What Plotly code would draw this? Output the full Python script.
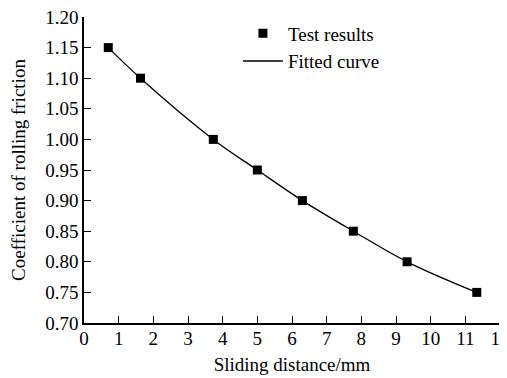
import plotly.graph_objects as go

# Data
sliding_distance = [0.7, 1.63, 3.73, 5.0, 6.3, 7.77, 9.32, 11.33]
friction_coeff = [1.15, 1.10, 1.00, 0.95, 0.90, 0.85, 0.80, 0.75]
x_ticks = list(range(0, 13))
y_ticks = [0.70, 0.75, 0.80, 0.85, 0.90, 0.95, 1.00, 1.05, 1.10, 1.15, 1.20]

FONT = "Liberation Serif, Times New Roman, serif"

fig = go.Figure()
fig.add_trace(go.Scatter(
    x=sliding_distance, y=friction_coeff, mode="markers", name="Test results",
    marker=dict(symbol="square", size=9, color="black"),
))
fig.add_trace(go.Scatter(
    x=sliding_distance, y=friction_coeff, mode="lines", name="Fitted curve",
    line=dict(color="black", width=1.3, shape="spline", smoothing=1.0),
))

axis_common = dict(
    showline=True, linecolor="black", linewidth=1.5, mirror=False,
    ticks="inside", ticklen=7, tickwidth=1.3, tickcolor="black",
    showgrid=False, zeroline=False, automargin=False,
    ticklabeloverflow="allow",
    tickfont=dict(family=FONT, size=19, color="black"),
)

# page body has an 8px margin, so the figure is 499x370
fig.update_layout(
    width=499, height=370,
    margin=dict(l=76, r=7, t=8, b=55),
    paper_bgcolor="white", plot_bgcolor="white",
    font=dict(family=FONT, size=19, color="black"),
    xaxis=dict(
        range=[0, 12], tickvals=x_ticks, ticktext=[str(v) for v in x_ticks],
        ticklabelstandoff=-3,
        title=dict(text="Sliding distance/mm", font=dict(family=FONT, size=19), standoff=10),
        **axis_common,
    ),
    yaxis=dict(
        range=[0.70, 1.20], tickvals=y_ticks, ticktext=[f"{v:.2f}" for v in y_ticks],
        title=dict(text="Coefficient of rolling friction", font=dict(family=FONT, size=19), standoff=16),
        **axis_common,
    ),
    legend=dict(
        x=0.37, y=1.005, xanchor="left", yanchor="top",
        bgcolor="rgba(0,0,0,0)", borderwidth=0,
        font=dict(family=FONT, size=19, color="black"),
        itemwidth=40, tracegroupgap=0,
    ),
    showlegend=True,
)

fig.write_html("out.html")
